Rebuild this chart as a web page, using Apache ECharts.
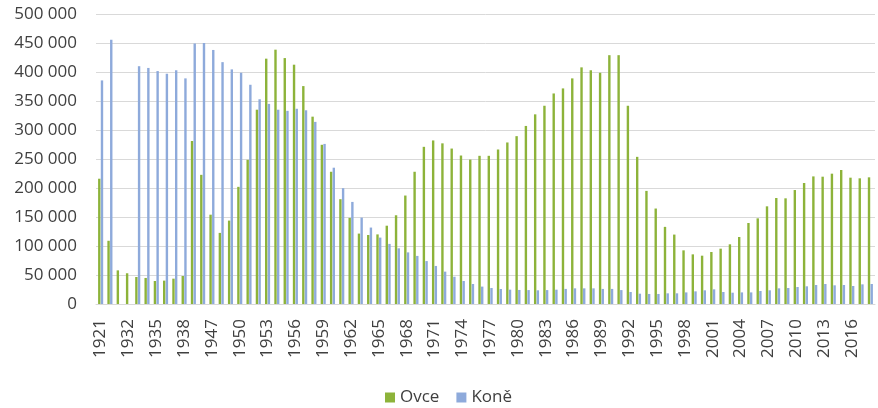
<!DOCTYPE html>
<html>
<head>
<meta charset="utf-8">
<script src="https://cdn.jsdelivr.net/npm/echarts@6/dist/echarts.min.js"></script>
<style>
html,body{margin:0;padding:0;background:#fff;}
#chart{width:878px;height:408px;}
</style>
</head>
<body>
<div id="chart"></div>
<script>
var years = ['1921','1925','1930','1932','1933','1934','1935','1936','1937','1938','1945','1946',
'1947','1948','1949','1950','1951','1952','1953','1954','1955','1956','1957','1958','1959','1960',
'1961','1962','1963','1964','1965','1966','1967','1968','1969','1970','1971','1972','1973','1974',
'1975','1976','1977','1978','1979','1980','1981','1982','1983','1984','1985','1986','1987','1988',
'1989','1990','1991','1992','1993','1994','1995','1996','1997','1998','1999','2000','2001','2002',
'2003','2004','2005','2006','2007','2008','2009','2010','2011','2012','2013','2014','2015','2016',
'2017','2018'];

var ovce = [216000,109000,58000,53000,46600,44900,39700,40300,43700,48300,281000,222700,
154000,122600,143800,202000,248600,335000,423000,438500,424000,412600,375700,323000,274500,228000,
180700,148500,121400,119000,120000,135000,153000,187000,228000,271000,282000,277000,268000,256000,
249000,255500,255500,266400,278500,289400,307000,327000,341800,363000,371700,389000,408000,403000,
398700,429000,429000,341800,253700,195000,164600,133000,119700,92500,85600,83300,89700,95400,
102900,115500,139700,147700,168400,182800,182200,196500,208600,220000,219500,224700,231000,217800,
216700,218400];

var kone = [385500,455700,null,null,410000,407000,401600,397000,403000,389000,449000,450000,
438000,417000,404500,398700,378000,353000,345000,335000,333000,336600,334000,314000,276000,235000,
199700,176000,149000,131800,114500,103600,96000,89000,82900,74000,65600,55800,47000,39700,
34500,30000,27600,25900,24700,24200,24000,23600,24000,24700,26000,27000,27000,27000,
26000,26000,24000,20700,17800,17300,17300,18400,18400,20000,21800,23600,25300,20700,
19500,20000,20000,22400,23600,27000,27600,29300,30500,32800,34500,32200,32800,31000,
33900,34500];

var seriesNames = ['Ovce','Koně'];

var chart = echarts.init(document.getElementById('chart'));
var fontFam = '"Open Sans", "Noto Sans", sans-serif';
function fmt(v){ return String(v).replace(/\B(?=(\d{3})+(?!\d))/g, ' '); }

chart.setOption({
  animation: false,
  backgroundColor: '#fff',
  grid: {left: 96, right: 3, top: 14, bottom: 104},
  legend: {
    data: seriesNames,
    left: 380, top: 384,
    itemWidth: 10, itemHeight: 10, itemGap: 17,
    icon: 'rect',
    textStyle: {fontFamily: fontFam, fontSize: 17, color: '#404040'}
  },
  xAxis: {
    type: 'category',
    data: years,
    axisLine: {lineStyle: {color: '#d9d9d9', width: 1}},
    axisTick: {show: false},
    axisLabel: {interval: 2, rotate: 90, margin: 15, fontFamily: fontFam, fontSize: 17, color: '#404040'},
    splitLine: {show: false}
  },
  yAxis: {
    type: 'value',
    min: 0, max: 500000, interval: 50000,
    axisLine: {show: false},
    axisTick: {show: false},
    axisLabel: {margin: 19, fontFamily: fontFam, fontSize: 17, color: '#404040', formatter: fmt},
    splitLine: {lineStyle: {color: '#d9d9d9', width: 1}}
  },
  series: [
    {name: seriesNames[0], type: 'bar', data: ovce, barWidth: 2.4, barGap: '12%', itemStyle: {color: '#8db33a'}},
    {name: seriesNames[1], type: 'bar', data: kone, barWidth: 2.4, itemStyle: {color: '#8eaadb'}}
  ]
});
</script>
</body>
</html>
